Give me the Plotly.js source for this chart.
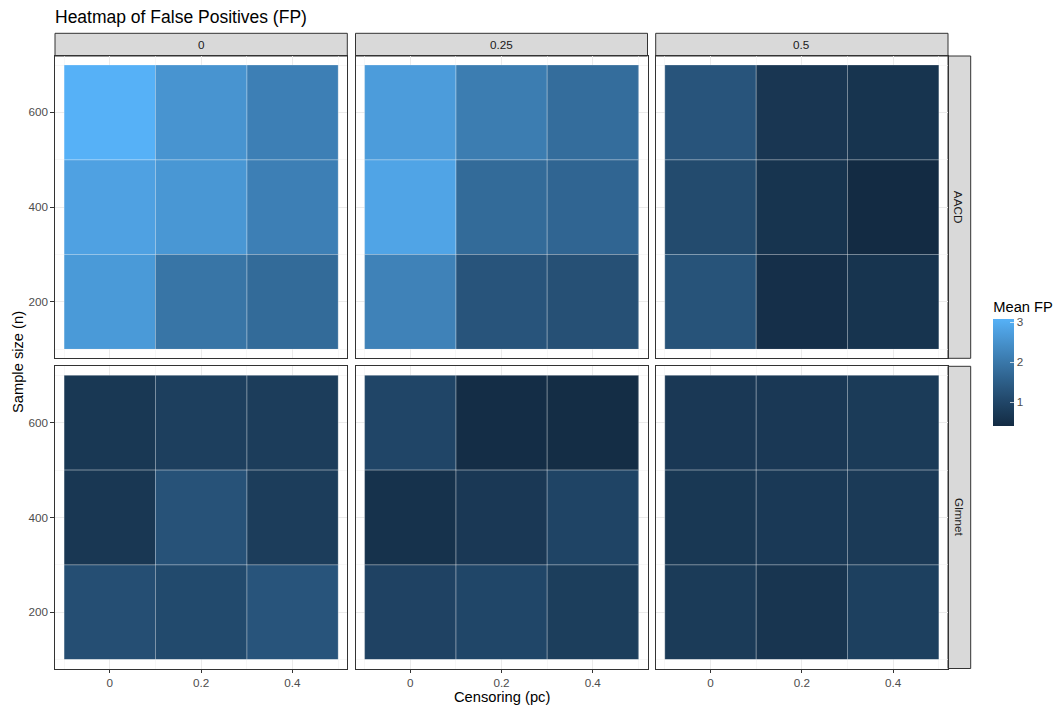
<!DOCTYPE html>
<html>
<head>
<meta charset="utf-8">
<script src="https://cdn.plot.ly/plotly-3.0.1.min.js"></script>
<style>html,body{margin:0;padding:0;background:#fff;}#chart{width:1055px;height:711px;}</style>
</head>
<body>
<div id="chart"></div>
<script>
// ---- Data ----
const censoring = [0, 0.2, 0.4];          // x: Censoring (pc)
const sampleSize = [200, 400, 600];       // y: Sample size (n)
const colFacets = ["0", "0.25", "0.5"];   // column facet labels
const methods = ["AACD", "Glmnet"];       // row facet labels
const xTickText = ["0", "0.2", "0.4"];
const yTickText = ["200", "400", "600"];
const colorTicks = [1, 2, 3];

// Mean FP, rows = sampleSize (200, 400, 600), cols = censoring (0, 0.2, 0.4)
const aacd_0    = [[2.65, 1.95, 1.75], [2.80, 2.60, 2.15], [3.08, 2.55, 2.15]];
const aacd_025  = [[2.20, 1.30, 1.20], [2.85, 1.75, 1.65], [2.70, 2.10, 1.80]];
const aacd_05   = [[1.27, 0.50, 0.60], [1.10, 0.60, 0.40], [1.30, 0.65, 0.60]];
const glmnet_0   = [[1.17, 1.08, 1.30], [0.66, 1.25, 0.80], [0.68, 0.85, 0.80]];
const glmnet_025 = [[0.92, 1.00, 0.82], [0.55, 0.70, 0.95], [0.98, 0.45, 0.44]];
const glmnet_05  = [[0.76, 0.62, 0.86], [0.68, 0.72, 0.74], [0.70, 0.70, 0.76]];

const facetValues = [
  [aacd_0, aacd_025, aacd_05],
  [glmnet_0, glmnet_025, glmnet_05]
];

// ---- ggplot-like gradient (#132B43 -> #56B1F7, Lab interpolation) ----
function hex2rgb(h){return [1,3,5].map(i=>parseInt(h.slice(i,i+2),16));}
function s2l(c){c/=255;return c<=0.04045?c/12.92:Math.pow((c+0.055)/1.055,2.4);}
function l2s(c){c=c<=0.0031308?12.92*c:1.055*Math.pow(c,1/2.4)-0.055;return Math.round(Math.max(0,Math.min(1,c))*255);}
function toLab(h){
  const [r,g,b]=hex2rgb(h).map(s2l);
  const X=(0.4124564*r+0.3575761*g+0.1804375*b)/0.95047;
  const Y=(0.2126729*r+0.7151522*g+0.0721750*b);
  const Z=(0.0193339*r+0.1191920*g+0.9503041*b)/1.08883;
  const f=t=>t>0.008856?Math.cbrt(t):7.787*t+16/116;
  const fx=f(X),fy=f(Y),fz=f(Z);
  return [116*fy-16,500*(fx-fy),200*(fy-fz)];
}
function fromLab([L,a,b]){
  const fy=(L+16)/116,fx=fy+a/500,fz=fy-b/200;
  const fi=t=>t*t*t>0.008856?t*t*t:(t-16/116)/7.787;
  const X=fi(fx)*0.95047,Y=fi(fy),Z=fi(fz)*1.08883;
  const r=3.2404542*X-1.5371385*Y-0.4985314*Z;
  const g=-0.9692660*X+1.8760108*Y+0.0415560*Z;
  const bb=0.0556434*X-0.2040259*Y+1.0572252*Z;
  return `rgb(${l2s(r)},${l2s(g)},${l2s(bb)})`;
}
const lo=toLab("#132B43"), hi=toLab("#56B1F7");
const colorscale=[];
for(let i=0;i<=20;i++){const t=i/20;colorscale.push([t,fromLab(lo.map((v,k)=>v+(hi[k]-v)*t))]);}

// ---- Layout geometry ----
const W=1055,H=711;
const colPx=[[55,347.3],[355.5,647.5],[655.7,948]];
const rowPx=[[56,358.3],[366.3,668.5]];
const xd=colPx.map(([a,b])=>[a/W,b/W]);
const yd=rowPx.map(([a,b])=>[1-b/H,1-a/H]);

const traces=[];
const layout={
  width:W,height:H,
  margin:{l:0,r:0,t:0,b:0},
  paper_bgcolor:"#fff",plot_bgcolor:"#fff",
  font:{family:"Liberation Sans, Arial, sans-serif",color:"#4D4D4D"},
  showlegend:false,
  title:{text:"Heatmap of False Positives (FP)",x:55/W,xanchor:"left",xref:"paper",
         y:1-17/H,yanchor:"middle",yref:"paper",font:{size:17.5,color:"#000"}},
  coloraxis:{
    colorscale:colorscale,
    colorbar:{
      title:{text:"Mean FP",side:"top",font:{size:14.7,color:"#000"}},
      x:993.3/W,xanchor:"left",xpad:0,
      y:1-426/H,yanchor:"bottom",ypad:0,
      thickness:21,len:128,lenmode:"pixels",
      outlinewidth:0,
      tickvals:colorTicks,ticktext:colorTicks.map(String),
      ticks:"inside",ticklen:4,tickcolor:"rgba(255,255,255,0.7)",tickwidth:1,
      tickfont:{size:11.7,color:"#4D4D4D"}
    }
  },
  shapes:[],annotations:[]
};

const dx=(censoring[1]-censoring[0])/2, dy=(sampleSize[1]-sampleSize[0])/2;

for(let r=0;r<methods.length;r++){
  for(let c=0;c<colFacets.length;c++){
    const k=r*3+c+1;
    const xa=k===1?"x":"x"+k, ya=k===1?"y":"y"+k;
    traces.push({
      type:"heatmap",x:censoring,y:sampleSize,z:facetValues[r][c],
      coloraxis:"coloraxis",xaxis:xa,yaxis:ya,
      hovertemplate:"pc=%{x}<br>n=%{y}<br>FP=%{z}<extra></extra>"
    });
    const bottom=(r===methods.length-1), left=(c===0);
    layout["xaxis"+(k===1?"":k)]={
      domain:xd[c],anchor:ya,range:[-0.12,0.52],
      tickvals:censoring,ticktext:xTickText,
      showticklabels:bottom,ticks:bottom?"outside":"",ticklen:3.7,tickcolor:"#333",tickwidth:1,
      tickfont:{size:11.7,color:"#4D4D4D"},
      showgrid:true,gridcolor:"#EBEBEB",gridwidth:1,zeroline:false,
      minor:{tickvals:[-0.1,0.1,0.3,0.5],showgrid:true,gridcolor:"#F2F2F2",gridwidth:0.6},
      showline:true,mirror:true,linecolor:"#333",linewidth:1,fixedrange:true
    };
    layout["yaxis"+(k===1?"":k)]={
      domain:yd[r],anchor:xa,range:[81,719],
      tickvals:sampleSize,ticktext:yTickText,
      showticklabels:left,ticks:left?"outside":"",ticklen:3.7,tickcolor:"#333",tickwidth:1,
      tickfont:{size:11.7,color:"#4D4D4D"},
      showgrid:true,gridcolor:"#EBEBEB",gridwidth:1,zeroline:false,
      minor:{tickvals:[100,300,500,700],showgrid:true,gridcolor:"#F2F2F2",gridwidth:0.6},
      showline:true,mirror:true,linecolor:"#333",linewidth:1,fixedrange:true
    };
    // tile outlines derived from data positions
    sampleSize.forEach(yv=>censoring.forEach(xv=>{
      layout.shapes.push({type:"rect",xref:xa,yref:ya,x0:xv-dx,x1:xv+dx,y0:yv-dy,y1:yv+dy,
        line:{color:"rgba(255,255,255,0.3)",width:0.8},fillcolor:"rgba(0,0,0,0)",layer:"above"});
    }));
  }
}

// column strips
colFacets.forEach((lab,c)=>{
  layout.shapes.push({type:"rect",xref:"paper",yref:"paper",x0:xd[c][0],x1:xd[c][1],
    y0:1-56/H,y1:1-33.3/H,fillcolor:"#D9D9D9",line:{color:"#333",width:1},layer:"below"});
  layout.annotations.push({text:lab,xref:"paper",yref:"paper",x:(xd[c][0]+xd[c][1])/2,
    y:1-44.6/H,xanchor:"center",yanchor:"middle",showarrow:false,font:{size:11.7,color:"#1A1A1A"}});
});
// row strips
methods.forEach((lab,r)=>{
  layout.shapes.push({type:"rect",xref:"paper",yref:"paper",x0:948/W,x1:970.7/W,
    y0:yd[r][0],y1:yd[r][1],fillcolor:"#D9D9D9",line:{color:"#333",width:1},layer:"below"});
  layout.annotations.push({text:lab,xref:"paper",yref:"paper",x:959.3/W,
    y:(yd[r][0]+yd[r][1])/2,xanchor:"center",yanchor:"middle",textangle:90,showarrow:false,
    font:{size:11.7,color:"#1A1A1A"}});
});
// axis titles
layout.annotations.push({text:"Censoring (pc)",xref:"paper",yref:"paper",x:(55+948)/2/W,y:1-697/H,
  xanchor:"center",yanchor:"middle",showarrow:false,font:{size:14.7,color:"#000"}});
layout.annotations.push({text:"Sample size (n)",xref:"paper",yref:"paper",x:18/W,y:1-362/H,
  xanchor:"center",yanchor:"middle",textangle:-90,showarrow:false,font:{size:14.7,color:"#000"}});

Plotly.newPlot("chart",traces,layout,{displayModeBar:false,staticPlot:true});
</script>
</body>
</html>
